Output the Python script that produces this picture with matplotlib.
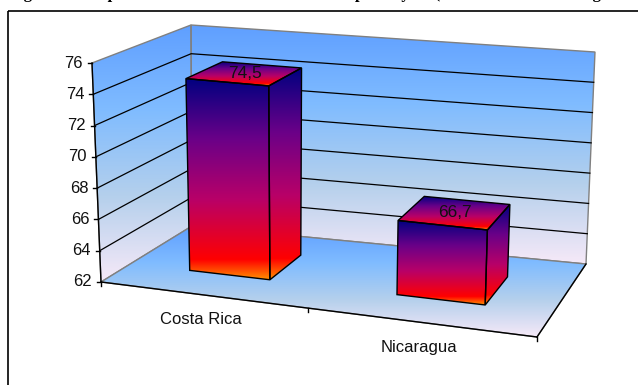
import numpy as np
import matplotlib
matplotlib.use("Agg")
import matplotlib.pyplot as plt
from matplotlib.colors import LinearSegmentedColormap
from matplotlib.patches import Polygon, Rectangle

categories = ["Costa Rica", "Nicaragua"]
values = [74.5, 66.7]
value_labels = ["74,5", "66,7"]
y_ticks = [62, 64, 66, 68, 70, 72, 74, 76]
title = "Figura 3.1. Esperanza de vida al nacer en ambos países y en (años de vida media según sexo)"

Y_MIN, Y_MAX = 62, 76
# box corners in pixels: (u, v, d)
CORNERS = {
    (0, 0, 0): (101, 282), (1, 0, 0): (537, 337),
    (0, 1, 0): (92, 63), (1, 1, 0): (546, 105),
    (0, 0, 1): (192, 226), (1, 0, 1): (586, 264),
    (0, 1, 1): (191, 25), (1, 1, 1): (595, 52),
}
BAR_U = [(0.139, 0.329), (0.63, 0.839)]
BAR_D = (0.33, 0.73)


def project(u, val, d):
    v = (val - Y_MIN) / (Y_MAX - Y_MIN)
    p = np.zeros(2)
    for (cu, cv, cd), xy in CORNERS.items():
        w = (u if cu else 1 - u) * (v if cv else 1 - v) * (d if cd else 1 - d)
        p += w * np.array(xy)
    return tuple(p)


wall_cmap = LinearSegmentedColormap.from_list("wall", ["#5f9fff", "#80bcff", "#b5d0ec", "#f6e9f8"])
bar_cmap = LinearSegmentedColormap.from_list(
    "bar", [(0, "#000080"), (0.3, "#6a0088"), (0.6, "#b80068"), (0.9, "#ff0000"), (1, "#ff9000")])


def grad_poly(ax, pts, cmap, z, edge="black", lw=1.0):
    pts = np.array(pts)
    y0, y1 = pts[:, 1].min(), pts[:, 1].max()
    x0, x1 = pts[:, 0].min(), pts[:, 0].max()
    grad = np.linspace(0, 1, 256).reshape(-1, 1)
    im = ax.imshow(grad, cmap=cmap, extent=(x0, x1, y1, y0), aspect="auto", zorder=z)
    poly = Polygon(pts, closed=True, transform=ax.transData, fc="none", ec="none")
    ax.add_patch(poly)
    im.set_clip_path(poly)
    if edge:
        ax.add_patch(Polygon(pts, closed=True, fc="none", ec=edge, lw=lw, zorder=z + 0.1))


fig = plt.figure(figsize=(6.38, 3.85), dpi=100)
ax = fig.add_axes([0, 0, 1, 1])
plt.rcParams["font.family"] = ["Liberation Sans"]

# walls and floor
grad_poly(ax, [project(0, Y_MIN, 0), project(0, Y_MAX, 0), project(0, Y_MAX, 1), project(0, Y_MIN, 1)],
          wall_cmap, 1, edge="#808080")
grad_poly(ax, [project(0, Y_MIN, 1), project(0, Y_MAX, 1), project(1, Y_MAX, 1), project(1, Y_MIN, 1)],
          wall_cmap, 1, edge="#808080")
grad_poly(ax, [project(0, Y_MIN, 0), project(0, Y_MIN, 1), project(1, Y_MIN, 1), project(1, Y_MIN, 0)],
          wall_cmap, 2, edge="#808080")

# front edges of floor and left wall
for a, b in [((0, Y_MIN, 0), (1, Y_MIN, 0)), ((1, Y_MIN, 0), (1, Y_MIN, 1)), ((0, Y_MIN, 0), (0, Y_MAX, 0))]:
    p, q = project(*a), project(*b)
    ax.plot([p[0], q[0]], [p[1], q[1]], color="black", lw=1.0, zorder=3)

# gridlines and tick labels
for t in y_ticks:
    if t != Y_MIN and t != Y_MAX:
        pts = [project(0, t, 0), project(0, t, 1), project(1, t, 1)]
        ax.plot(*zip(*pts), color="black", lw=0.9, zorder=1.5)
    p = project(0, t, 0)
    ax.plot([p[0] - 4, p[0]], [p[1], p[1]], color="black", lw=1.0, zorder=3)
    ax.text(p[0] - 9, p[1], str(t), ha="right", va="center", fontsize=12, color="#111111", zorder=6)

# ticks on the category axis
for u in [0, 0.475, 1]:
    p = project(u, Y_MIN, 0)
    ax.plot([p[0], p[0]], [p[1], p[1] + 4], color="black", lw=1.0, zorder=3)

# bars
for i, val in enumerate(values):
    u0, u1 = BAR_U[i]
    d0, d1 = BAR_D
    z = 4 + i * 0.01
    grad_poly(ax, [project(u0, val, d0), project(u1, val, d0), project(u1, val, d1), project(u0, val, d1)],
              bar_cmap, z)
    grad_poly(ax, [project(u1, val, d0), project(u1, val, d1), project(u1, Y_MIN, d1), project(u1, Y_MIN, d0)],
              bar_cmap, z)
    grad_poly(ax, [project(u0, val, d0), project(u1, val, d0), project(u1, Y_MIN, d0), project(u0, Y_MIN, d0)],
              bar_cmap, z)
    c = project((u0 + u1) / 2, val, (d0 + d1) / 2)
    ax.text(c[0], c[1], value_labels[i], ha="center", va="center", fontsize=12.5, color="#111111", zorder=6)
    p = project(i * 0.5 + 0.25, Y_MIN, 0)
    ax.text(p[0] - 9, p[1] + 24, categories[i], ha="center", va="center", fontsize=12, color="#111111", zorder=6)

# outer frame and clipped title
ax.add_patch(Rectangle((8, 10.5), 640, 385, fc="none", ec="black", lw=1.2, zorder=0.5))
ax.text(9, -2, title, ha="left", va="baseline", fontsize=12, fontweight="bold",
        family="Liberation Serif", zorder=6, clip_on=True)

ax.set_xlim(0, 638)
ax.set_ylim(385, 0)
ax.axis("off")
fig.savefig("out.png", dpi=100)
